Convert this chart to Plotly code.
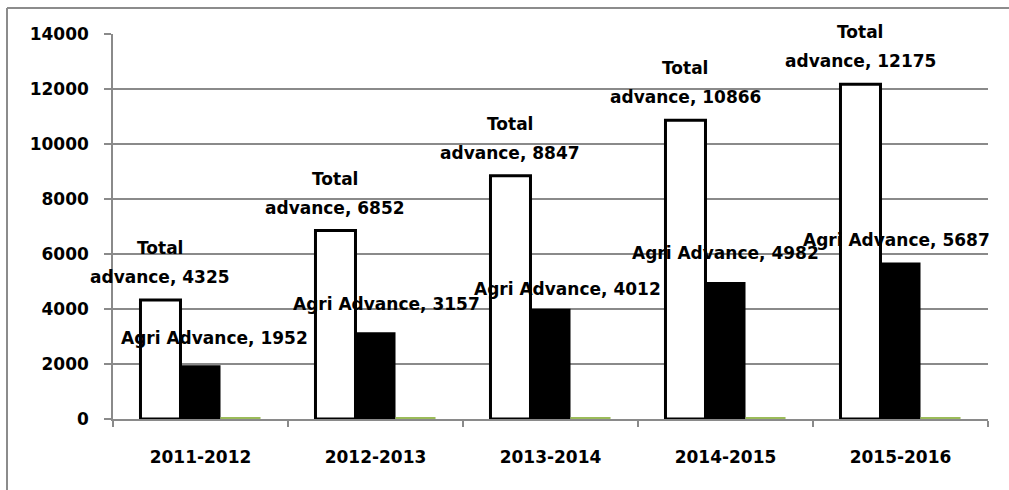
import plotly.graph_objects as go

# ---- data ----
years = ["2011-2012", "2012-2013", "2013-2014", "2014-2015", "2015-2016"]
total_advance = [4325, 6852, 8847, 10866, 12175]
agri_advance = [1952, 3157, 4012, 4982, 5687]
agri_share = [45.1, 46.1, 45.3, 45.8, 46.7]
y_tick_values = [0, 2000, 4000, 6000, 8000, 10000, 12000, 14000]
y_tick_labels = ["0", "2000", "4000", "6000", "8000", "10000", "12000", "14000"]

# ---- style / layout constants ----
FONT = "DejaVu Sans"
FS = 17
W, H = 1009, 490
ML, MR, MT, MB = 113, 21, 34, 71
BARGAP = 0.314
BW = (1 - BARGAP) / 3
GRID = "#8a8a8a"

# manual label nudges (pixels) for the agri labels, as placed in the original
agri_dx = [14, 11, 17, 0, -4]
agri_dy = [27, 28, 20, 29, 23]

fig = go.Figure()
fig.add_bar(x=years, y=total_advance, name="Total advance",
            marker=dict(color="white", line=dict(color="black", width=3)))
fig.add_bar(x=years, y=agri_advance, name="Agri Advance",
            marker=dict(color="black", line=dict(width=0)))
fig.add_bar(x=years, y=agri_share, name="Agri share",
            marker=dict(color="#9BBB59", line=dict(width=0)))

ann = []
lab_font = dict(family=FONT, size=FS, color="black")
for i, v in enumerate(total_advance):
    ann.append(dict(x=i - BW, y=v, xref="x", yref="y", text="<b>Total</b>",
                    showarrow=False, yanchor="middle", xanchor="center",
                    yshift=52, font=lab_font))
    ann.append(dict(x=i - BW, y=v, xref="x", yref="y", text=f"<b>advance, {v}</b>",
                    showarrow=False, yanchor="middle", xanchor="center",
                    yshift=23, font=lab_font))
for i, v in enumerate(agri_advance):
    ann.append(dict(x=i, y=v, xref="x", yref="y", text=f"<b>Agri Advance, {v}</b>",
                    showarrow=False, yanchor="middle", xanchor="center",
                    xshift=agri_dx[i], yshift=agri_dy[i], font=lab_font))

pw = W - ML - MR
ph = H - MT - MB
def px_x(p):
    return (p - ML) / pw
def px_y(p):
    return (H - MB - p) / ph

border = dict(color="#8c8c8c", width=2)
shapes = [
    dict(type="line", xref="paper", yref="paper",
         x0=px_x(7), x1=px_x(1009), y0=px_y(8), y1=px_y(8), line=border, layer="below"),
    dict(type="line", xref="paper", yref="paper",
         x0=px_x(7), x1=px_x(7), y0=px_y(8), y1=px_y(490), line=border, layer="below"),
]

fig.update_layout(
    width=W, height=H, autosize=False,
    margin=dict(l=ML, r=MR, t=MT, b=MB, pad=0),
    paper_bgcolor="white", plot_bgcolor="white",
    barmode="group", bargap=BARGAP, bargroupgap=0,
    showlegend=False,
    font=dict(family=FONT, size=FS, color="black"),
    annotations=ann, shapes=shapes,
)
fig.update_xaxes(
    type="category", range=[-0.5, len(years) - 0.5],
    showgrid=False, showline=True, linecolor=GRID, linewidth=1.5,
    ticks="outside", tickson="boundaries", ticklen=6, tickcolor=GRID, tickwidth=1.5,
    tickfont=dict(family=FONT, size=FS, color="black", weight="bold"),
    ticklabelstandoff=22, zeroline=False,
)
fig.update_yaxes(
    range=[0, 14000], tickvals=y_tick_values, ticktext=y_tick_labels,
    showgrid=True, gridcolor=GRID, gridwidth=1.5,
    showline=True, linecolor=GRID, linewidth=1.5,
    ticks="outside", ticklen=7, tickcolor=GRID, tickwidth=1.5,
    tickfont=dict(family=FONT, size=FS, color="black", weight="bold"),
    ticklabelstandoff=12, zeroline=False,
)

fig.write_html("out.html", config={"displayModeBar": False})
